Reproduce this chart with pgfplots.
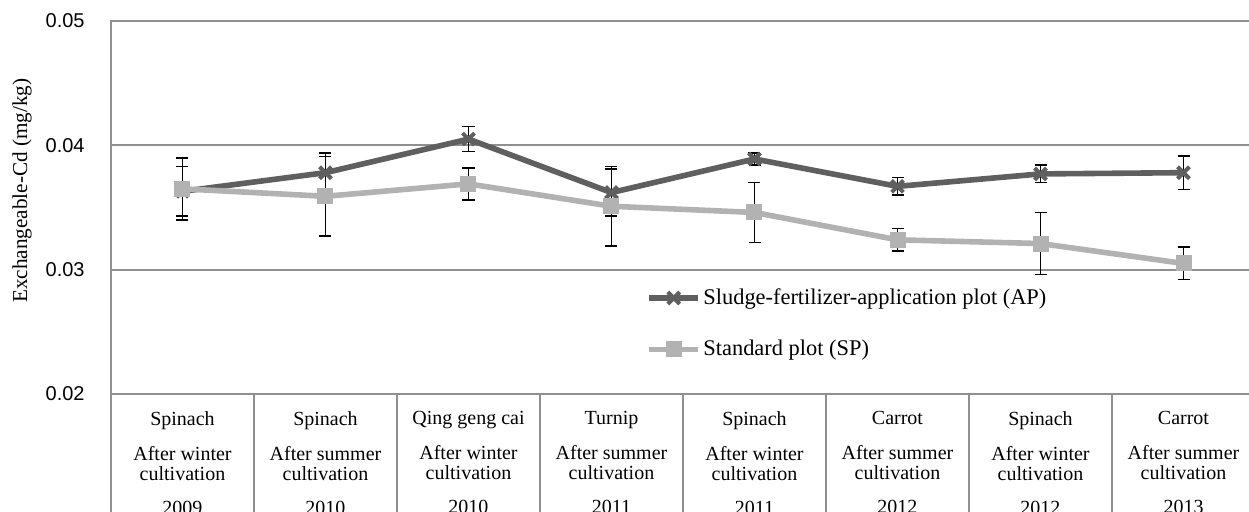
\documentclass[border=0pt]{standalone}
\usepackage{pgfplots}
\pgfplotsset{compat=1.18}
\usepackage{fontspec}
\setmainfont{Liberation Serif}
\newfontfamily\sansf{Liberation Sans}
\definecolor{apc}{HTML}{5F5F5F}
\definecolor{spc}{HTML}{B2B2B2}
\definecolor{gridc}{HTML}{8F8F8F}
\begin{document}
\begin{tikzpicture}
\begin{axis}[
  name=ax,
  scale only axis,
  width=572pt, height=186.5pt,
  xmin=-0.5, xmax=7.5,
  ymin=0.02, ymax=0.05,
  scaled y ticks=false,
  ytick={0.02,0.03,0.04,0.05},
  yticklabels={0.02,0.03,0.04,0.05},
  xtick={0,1,2,3,4,5,6,7},
  xticklabels={
    {Spinach\\[7.5pt]After winter\\cultivation\\[7pt]2009},
    {Spinach\\[7.5pt]After summer\\cultivation\\[7pt]2010},
    {Qing geng cai\\[7.5pt]After winter\\cultivation\\[7pt]2010},
    {Turnip\\[7.5pt]After summer\\cultivation\\[7pt]2011},
    {Spinach\\[7.5pt]After winter\\cultivation\\[7pt]2011},
    {Carrot\\[7.5pt]After summer\\cultivation\\[7pt]2012},
    {Spinach\\[7.5pt]After winter\\cultivation\\[7pt]2012},
    {Carrot\\[7.5pt]After summer\\cultivation\\[7pt]2013}},
  major tick length=0pt,
  tick pos=left,
  extra x ticks={-0.5,0.5,1.5,2.5,3.5,4.5,5.5,6.5,7.5},
  extra x tick labels={},
  extra x tick style={major tick length=70pt, tick align=outside,
     tick style={gridc, line width=1pt}, grid=none},
  ymajorgrids,
  grid style={gridc, line width=1pt},
  axis line style={gridc, line width=1pt},
  x tick label style={font=\fontsize{10pt}{10pt}\selectfont, align=center,
     anchor=north, inner sep=0pt, yshift=-8.5pt},
  y tick label style={font=\fontsize{10pt}{11pt}\sansf, anchor=east,
     inner sep=0pt, xshift=-13pt},
  ylabel={Exchangeable-Cd (mg/kg)},
  every axis y label/.style={at={(rel axis cs:0,0.545)}, xshift=-44.5pt,
     rotate=90, anchor=center, font=\fontsize{10.6pt}{12pt}\selectfont},
  legend style={at={(rel axis cs:0.4677,0.29)}, anchor=north west,
     draw=none, fill=none, inner sep=0pt,
     font=\fontsize{11.2pt}{12pt}\selectfont,
     row sep=14pt,
     nodes={inner sep=1.2pt, anchor=west}},
  legend cell align=left,
  legend image code/.code={
    \draw[mark repeat=2,mark phase=2] plot coordinates {(0pt,0pt)(12.25pt,0pt)(24.5pt,0pt)};},
  clip=false,
]
\addplot[apc, line width=2.8pt, mark=x, mark size=4.2pt,
  mark options={line width=2pt, solid},
  error bars/.cd, y dir=both, y explicit,
  error bar style={black, line width=0.8pt},
  error mark options={black, rotate=90, mark size=3pt, line width=0.8pt}]
  coordinates {
  (0,0.0363) +- (0,0.0020)
  (1,0.0378) +- (0,0.0016)
  (2,0.0405) +- (0,0.0010)
  (3,0.0362) +- (0,0.0019)
  (4,0.0389) +- (0,0.0005)
  (5,0.0367) +- (0,0.0007)
  (6,0.0377) +- (0,0.0007)
  (7,0.0378) +- (0,0.00135)
  };
\addlegendentry{Sludge-fertilizer-application plot (AP)}
\addplot[spc, line width=2.8pt, mark=square*, mark size=3.6pt,
  mark options={fill=spc, draw=spc, line width=0.8pt, rounded corners=1.2pt},
  error bars/.cd, y dir=both, y explicit,
  error bar style={black, line width=0.8pt},
  error mark options={black, rotate=90, mark size=3pt, line width=0.8pt}]
  coordinates {
  (0,0.0365) +- (0,0.0025)
  (1,0.0359) +- (0,0.0032)
  (2,0.0369) +- (0,0.0013)
  (3,0.0351) +- (0,0.0032)
  (4,0.0346) +- (0,0.0024)
  (5,0.0324) +- (0,0.0009)
  (6,0.0321) +- (0,0.0025)
  (7,0.0305) +- (0,0.0013)
  };
\addlegendentry{Standard plot (SP)}
\end{axis}
\pgfresetboundingbox
\path ([xshift=-55.5pt,yshift=-59pt]ax.south west) rectangle ([xshift=569pt,yshift=197pt]ax.south west);
\end{tikzpicture}
\end{document}
